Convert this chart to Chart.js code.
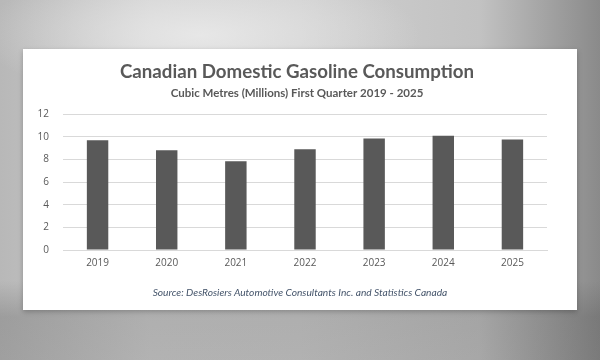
<!DOCTYPE html>
<html>
<head>
<meta charset="utf-8">
<script src="https://cdn.jsdelivr.net/npm/chart.js@4"></script>
<style>
  html, body { margin: 0; padding: 0; }
  body {
    width: 600px; height: 360px; overflow: hidden; position: relative;
    background:
      radial-gradient(ellipse 220px 70px at 200px 35px, rgba(235,235,235,0.85), rgba(235,235,235,0)),
      linear-gradient(180deg, rgba(0,0,0,0) 78%, rgba(60,60,60,0.22) 88%, rgba(60,60,60,0.2) 100%),
      linear-gradient(90deg, #b8b8b8 0%, #d0d0d0 25%, #cfcfcf 50%, #c2c2c2 80%, #8a8a8a 100%);
  }
  #card {
    position: absolute; left: 23px; top: 49px; width: 554px; height: 261px;
    background: #fff; box-shadow: 0 2px 5px rgba(0,0,0,0.25);
  }
  #source {
    position: absolute; left: 0; width: 554px; top: 237px; text-align: center;
    font: italic 10.2px Lato, sans-serif; color: #44546a;
  }
</style>
</head>
<body>
<div id="card">
  <canvas id="gasChart" width="554" height="261"></canvas>
  <div id="source">Source: DesRosiers Automotive Consultants Inc. and Statistics Canada</div>
</div>
<script>
const years = ['2019', '2020', '2021', '2022', '2023', '2024', '2025'];
const consumption = [9.71, 8.81, 7.85, 8.90, 9.85, 10.09, 9.77];
const yTicks = [0, 2, 4, 6, 8, 10, 12];

const grey = '#595959';
const ctx = document.getElementById('gasChart').getContext('2d');
const gasChart = new Chart(ctx, {
  type: 'bar',
  data: {
    labels: years,
    datasets: [{
      label: 'Consumption',
      data: consumption,
      backgroundColor: grey,
      categoryPercentage: 1,
      barPercentage: 0.31,
    }],
  },
  options: {
    responsive: false,
    animation: false,
    layout: { padding: { left: 0, right: 6, top: 0, bottom: 35 } },
    scales: {
      x: {
        grid: { display: false, drawTicks: false },
        border: { color: '#d9d9d9' },
        ticks: { color: grey, font: { family: 'Open Sans', size: 10 }, padding: 7 },
        afterFit: (s) => { s.height = 25; },
      },
      y: {
        min: 0,
        max: 12,
        afterBuildTicks: (s) => { s.ticks = yTicks.map(v => ({ value: v })); },
        grid: { color: '#d9d9d9', drawTicks: false },
        border: { display: false },
        ticks: { color: grey, font: { family: 'Open Sans', size: 10 }, padding: 14 },
        afterFit: (s) => { s.width = 40; },
      },
      // empty right axis, only there so the titles sit centred on the card
      spacer: {
        type: 'linear',
        position: 'right',
        grid: { display: false, drawTicks: false },
        border: { display: false },
        ticks: { display: false },
        afterFit: (s) => { s.width = 24; },
      },
    },
    plugins: {
      legend: { display: false },
      tooltip: { enabled: false },
      title: {
        display: true,
        text: 'Canadian Domestic Gasoline Consumption',
        color: grey,
        font: { family: 'Lato', size: 18.7, weight: 'bold' },
        padding: { top: 12, bottom: 0 },
      },
      subtitle: {
        display: true,
        text: 'Cubic Metres (Millions) First Quarter 2019 - 2025',
        color: grey,
        font: { family: 'Lato', size: 11.5, weight: 'bold' },
        padding: { top: 3, bottom: 14 },
      },
    },
  },
});
</script>
</body>
</html>
